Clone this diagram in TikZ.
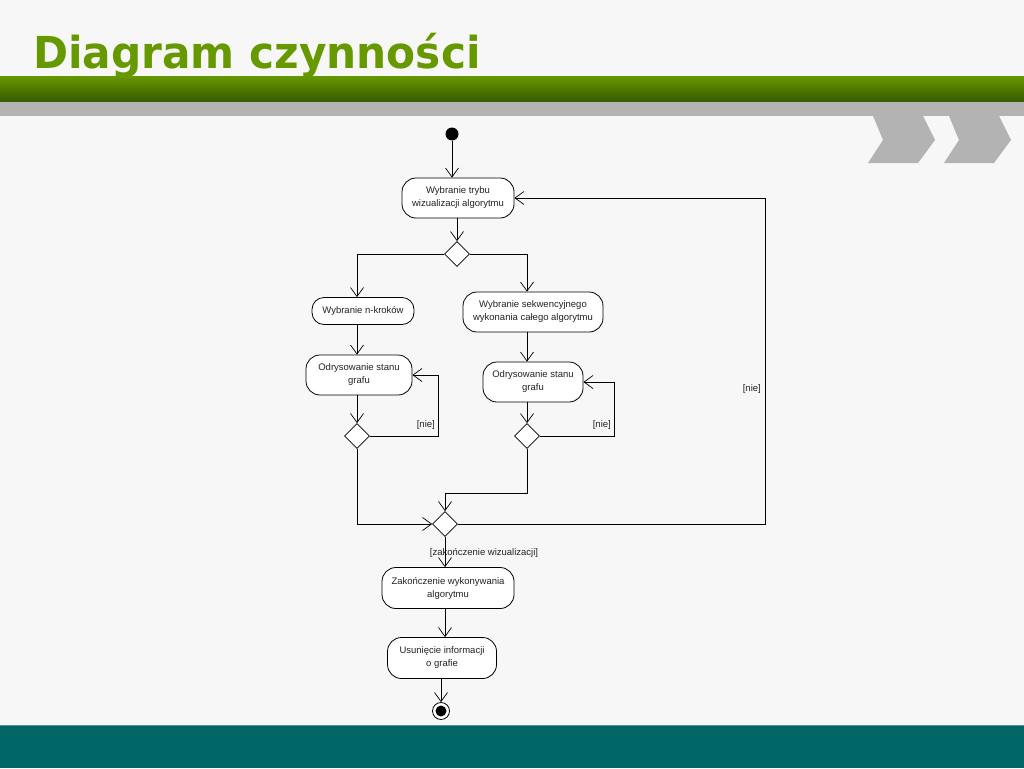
\documentclass[tikz,border=0pt]{standalone}
\usepackage{fontspec}
\setmainfont{Liberation Sans}
\newfontfamily\titlefont{DejaVu Sans}
\usetikzlibrary{shapes.geometric,arrows.meta,calc}
\definecolor{bgc}{HTML}{F7F7F7}
\definecolor{titlegreen}{HTML}{669900}
\definecolor{banddark}{HTML}{355800}
\definecolor{bandgray}{HTML}{B3B3B3}
\definecolor{teal}{HTML}{006666}
\definecolor{txt}{HTML}{222222}
\tikzset{
  act/.style={draw=black, fill=white, line width=0.8pt, rounded corners=14pt, align=center,
    font=\fontsize{9.5}{13}\selectfont, text=txt, inner sep=2pt},
  dec/.style={draw=black, fill=white, line width=0.8pt, diamond, aspect=1, inner sep=0pt,
    minimum width=25pt, minimum height=25pt},
  arr/.style={draw=black, line width=0.7pt, -{Straight Barb[length=9pt,width=13pt,line width=0.7pt]}},
  lbl/.style={font=\fontsize{9.5}{13}\selectfont, text=txt, inner sep=0pt},
  chev/.style={fill=bandgray, draw=none}
}
\begin{document}
\begin{tikzpicture}[x=1pt,y=-1pt]
\useasboundingbox (0,0) rectangle (1024,768);
\fill[bgc] (0,0) rectangle (1024,768);
% header bands
\shade[top color=titlegreen, bottom color=banddark] (0,76) rectangle (1024,102);
\fill[bandgray] (0,102) rectangle (1024,116);
% chevrons
\fill[chev] (873,116) -- (923,116) -- (935,140) -- (918,163) -- (868,163) -- (883,140) -- cycle;
\fill[chev] (949,116) -- (999,116) -- (1011,140) -- (994,163) -- (944,163) -- (959,140) -- cycle;
% bottom band
\fill[teal] (0,725) rectangle (1024,768);
\draw[color=teal!70!white, line width=0.8pt] (0,725) -- (1024,725);
% title
\node[anchor=base west, inner sep=0pt, text=titlegreen] (title) at (33,68)
  {\scalebox{0.96}[1]{\titlefont\bfseries\fontsize{44}{50}\selectfont Diagram czynności}};

% nodes
\node[circle, fill=black, inner sep=0pt, minimum size=13pt] (start) at (452,134) {};
\node[act, minimum width=112pt, minimum height=40pt] (A) at (458,198) {Wybranie trybu\\wizualizacji algorytmu};
\node[dec] (d1) at (457,254) {};
\node[act, rounded corners=12pt, minimum width=102pt, minimum height=27pt] (B) at (363,311) {Wybranie n-kroków};
\node[act, minimum width=140pt, minimum height=40pt] (C) at (533,312) {Wybranie sekwencyjnego\\wykonania całego algorytmu};
\node[act, minimum width=106pt, minimum height=40pt] (D) at (359,375) {Odrysowanie stanu\\grafu};
\node[act, minimum width=100pt, minimum height=40pt] (F) at (533,382) {Odrysowanie stanu\\grafu};
\node[dec] (E) at (357,436) {};
\node[dec] (G) at (527,436) {};
\node[dec] (H) at (445,524) {};
\node[act, minimum width=132pt, minimum height=41pt] (I) at (448,588) {Zakończenie wykonywania\\algorytmu};
\node[act, minimum width=109pt, minimum height=41pt] (J) at (442,658) {Usunięcie informacji\\o grafie};
\node[circle, draw=black, fill=white, line width=0.8pt, inner sep=0pt, minimum size=17pt] (end) at (441,711) {};
\node[circle, fill=black, inner sep=0pt, minimum size=11pt] (endin) at (end) {};

% labels
\node[lbl, anchor=east] (n1) at (435,425) {[nie]};
\node[lbl, anchor=east] (n2) at (611,425) {[nie]};
\node[lbl, anchor=east] (n3) at (761,389) {[nie]};
\node[lbl] (zak) at (484,553) {[zakończenie wizualizacji]};

% connectors
\coordinate (loopR) at (765,524);
\draw[arr] (start) -- (start |- A.north);
\draw[arr] (d1 |- A.south) -- (d1.north);
\draw[arr] (d1.west) -| (B.north -| E);
\draw[arr] (d1.east) -| (C.north -| G);
\draw[arr] (B.south -| E) -- (D.north -| E);
\draw[arr] (D.south -| E) -- (E.north);
\draw[arr] (E.east) -| ([xshift=26pt]D.east) -- (D.east);
\draw[arr] (C.south -| G) -- (F.north -| G);
\draw[arr] (F.south -| G) -- (G.north);
\draw[arr] (G.east) -| ([xshift=31pt]F.east) -- (F.east);
\draw[arr] (G.south) -- ++(0,44) -| (H.north);
\draw[arr] (E.south) |- (H.west);
\draw[arr] (H.east) -- (loopR) |- (A.east);
\draw[arr] (H.south) -- (I.north -| H);
\draw[arr] (I.south -| H) -- (J.north -| H);
\draw[arr] (J.south -| end) -- (end.north);
\end{tikzpicture}
\end{document}
